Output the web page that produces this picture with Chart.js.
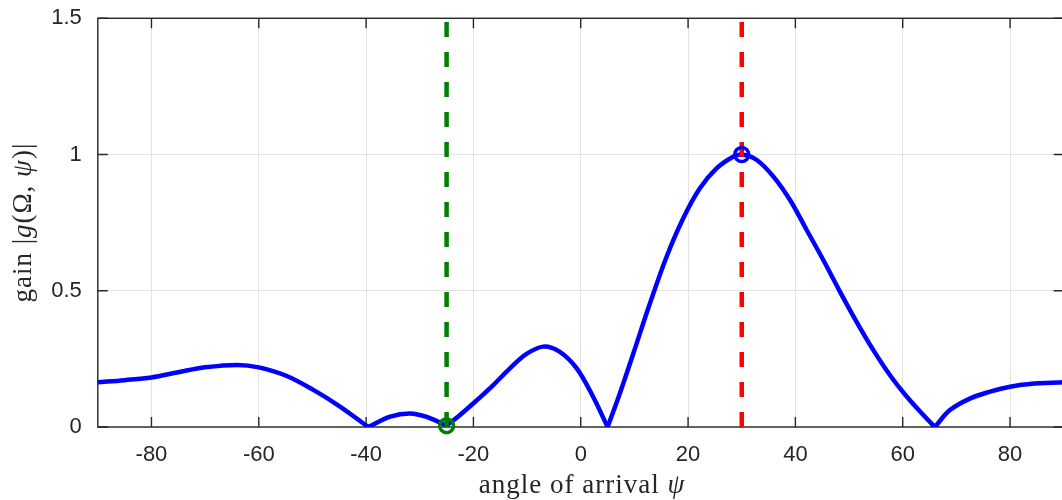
<!DOCTYPE html>
<html><head><meta charset="utf-8">
<script src="https://cdn.jsdelivr.net/npm/chart.js@4.4.1/dist/chart.umd.min.js"></script>
<style>html,body{margin:0;padding:0;overflow:hidden;background:#fff}#wrap{width:1070px;height:500px;position:relative}</style>
</head><body>
<div id="wrap"><canvas id="c" width="1070" height="500" style="width:1070px;height:500px;display:block"></canvas></div>
<script>
// ---- data ----
const psi  = [-90, -85, -80, -75, -70, -64, -60, -55, -50, -45, -39.6, -35.5, -31.8, -28.7, -25,
              -22.5, -20, -16.3, -13.2, -10.1, -7, -3.9, -0.75, 2.3, 5,
              7.3, 9.8, 12.9, 16, 19.1, 22.2, 25.3, 28.4, 30, 32.8, 35.9, 39, 42.1, 45.2, 48.3,
              51.4, 54.5, 57.6, 60.7, 63.8, 66, 68.8, 72.6, 76.3, 80, 83.7, 90];
const gain = [0.164, 0.172, 0.182, 0.201, 0.219, 0.228, 0.219, 0.189, 0.138, 0.077, 0.0, 0.038, 0.050, 0.037, 0.005,
              0.044, 0.087, 0.154, 0.215, 0.268, 0.295, 0.276, 0.215, 0.111, 0.0,
              0.124, 0.270, 0.454, 0.625, 0.766, 0.876, 0.949, 0.992, 1.0, 0.980, 0.919, 0.833, 0.723, 0.613, 0.497,
              0.386, 0.283, 0.191, 0.113, 0.045, 0.0, 0.062, 0.105, 0.130, 0.148, 0.158, 0.164];
const interfererAngle = -25;
const interfererGain = 0.005;
const targetAngle = 30;
const targetGain = 1.0;
const xRange = [-90, 90];
const yRange = [0, 1.5];
const xTicks = [-80, -60, -40, -20, 0, 20, 40, 60, 80];
const xTickLabels = ['-80', '-60', '-40', '-20', '0', '20', '40', '60', '80'];
const yTicks = [0, 0.5, 1, 1.5];
const yTickLabels = ['0', '0.5', '1', '1.5'];
const xTitleParts = [{t: 'angle of arrival '}, {t: 'ψ', i: true}];
const yTitleParts = [{t: 'gain |'}, {t: 'g', i: true}, {t: '(Ω, '}, {t: 'ψ', i: true}, {t: ')|'}];

// ---- build line segments (split at the nulls / local minima) ----
const segments = [];
let cur = [];
for (let i = 0; i < psi.length; i++) {
  cur.push({x: psi[i], y: gain[i]});
  const isMin = i > 0 && i < psi.length - 1 && gain[i] < gain[i - 1] && gain[i] < gain[i + 1];
  if (isMin) { segments.push(cur); cur = [{x: psi[i], y: gain[i]}]; }
}
segments.push(cur);

const BLUE = '#0000ff', RED = '#ff0000', GREEN = '#008000', AX = '#262626';

const datasets = [];
// markers on top
datasets.push({data: [{x: targetAngle, y: targetGain}], showLine: false, pointRadius: 7, pointBorderWidth: 3.5,
  pointBorderColor: BLUE, pointBackgroundColor: 'rgba(0,0,0,0)', order: 1, clip: false});
datasets.push({data: [{x: interfererAngle, y: interfererGain}], showLine: false, pointRadius: 7, pointBorderWidth: 3.5,
  pointBorderColor: GREEN, pointBackgroundColor: 'rgba(0,0,0,0)', order: 1, clip: false});
// vertical dashed lines
datasets.push({data: [{x: targetAngle, y: yRange[0]}, {x: targetAngle, y: yRange[1]}], borderColor: RED, borderWidth: 4.5,
  borderDash: [15, 15], pointRadius: 0, order: 2, tension: 0});
datasets.push({data: [{x: interfererAngle, y: yRange[0]}, {x: interfererAngle, y: yRange[1]}], borderColor: GREEN, borderWidth: 4.5,
  borderDash: [15, 15], pointRadius: 0, order: 2, tension: 0});
// pattern lobes
segments.forEach(s => datasets.push({data: s, borderColor: BLUE, borderWidth: 4.5, pointRadius: 0,
  tension: 0.35, borderCapStyle: 'round', borderJoinStyle: 'round', order: 3}));

const SERIF = '"Liberation Serif", "DejaVu Serif", serif';
function drawRich(ctx, parts, size) {
  let w = 0;
  parts.forEach(p => { ctx.font = (p.i ? 'italic ' : '') + size + 'px ' + SERIF; p.w = ctx.measureText(p.t).width; w += p.w; });
  let xx = -w / 2;
  parts.forEach(p => { ctx.font = (p.i ? 'italic ' : '') + size + 'px ' + SERIF; ctx.fillText(p.t, xx, 0); xx += p.w; });
}

const frame = {
  id: 'frame',
  beforeDatasetsDraw(chart) {
    const {ctx, chartArea: a, scales: {x, y}} = chart;
    ctx.save();
    ctx.strokeStyle = AX; ctx.lineWidth = 1.4;
    ctx.strokeRect(a.left, a.top, a.right - a.left, a.bottom - a.top);
    ctx.beginPath();
    xTicks.forEach(v => { const p = x.getPixelForValue(v);
      ctx.moveTo(p, a.bottom); ctx.lineTo(p, a.bottom - 10); ctx.moveTo(p, a.top); ctx.lineTo(p, a.top + 10); });
    yTicks.forEach(v => { const p = y.getPixelForValue(v);
      ctx.moveTo(a.left, p); ctx.lineTo(a.left + 10, p); ctx.moveTo(a.right, p); ctx.lineTo(a.right - 10, p); });
    ctx.stroke();
    ctx.restore();
  },
  afterDraw(chart) {
    const {ctx, chartArea: a} = chart;
    ctx.save();
    ctx.fillStyle = AX; ctx.textBaseline = 'alphabetic'; ctx.textAlign = 'left';
    try { ctx.letterSpacing = '1px'; } catch (e) {}
    ctx.save();
    ctx.translate(582, 493);
    drawRich(ctx, xTitleParts, 27);
    ctx.restore();
    ctx.save();
    ctx.translate(31, (a.top + a.bottom) / 2);
    ctx.rotate(-Math.PI / 2);
    drawRich(ctx, yTitleParts, 27);
    ctx.restore();
    ctx.restore();
  }
};

function zeroPad(s) { s.paddingLeft = 0; s.paddingRight = 0; s.paddingTop = 0; s.paddingBottom = 0; }

new Chart(document.getElementById('c'), {
  type: 'line',
  data: {datasets},
  plugins: [frame],
  options: {
    responsive: false, animation: false, devicePixelRatio: 1,
    layout: {autoPadding: false, padding: {left: 0, top: 18.3, right: 6.3, bottom: 0}},
    plugins: {legend: {display: false}, tooltip: {enabled: false}},
    scales: {
      x: {type: 'linear', min: xRange[0], max: xRange[1],
        afterBuildTicks: s => { s.ticks = xTicks.map(v => ({value: v})); },
        afterFit: s => { s.height = 73; zeroPad(s); },
        grid: {color: '#e3e3e3', lineWidth: 1, drawTicks: false},
        border: {display: false},
        ticks: {padding: 15, color: AX, maxRotation: 0, autoSkip: false,
          font: {family: '"Liberation Sans", Arial, sans-serif', size: 22},
          callback: v => xTickLabels[xTicks.indexOf(v)]}},
      y: {type: 'linear', min: yRange[0], max: yRange[1],
        afterBuildTicks: s => { s.ticks = yTicks.map(v => ({value: v})); },
        afterFit: s => { s.width = 97.8; zeroPad(s); },
        grid: {color: '#e3e3e3', lineWidth: 1, drawTicks: false},
        border: {display: false},
        ticks: {padding: 16, color: AX, autoSkip: false,
          font: {family: '"Liberation Sans", Arial, sans-serif', size: 22},
          callback: v => yTickLabels[yTicks.indexOf(v)]}}
    }
  }
});
</script>
</body></html>
